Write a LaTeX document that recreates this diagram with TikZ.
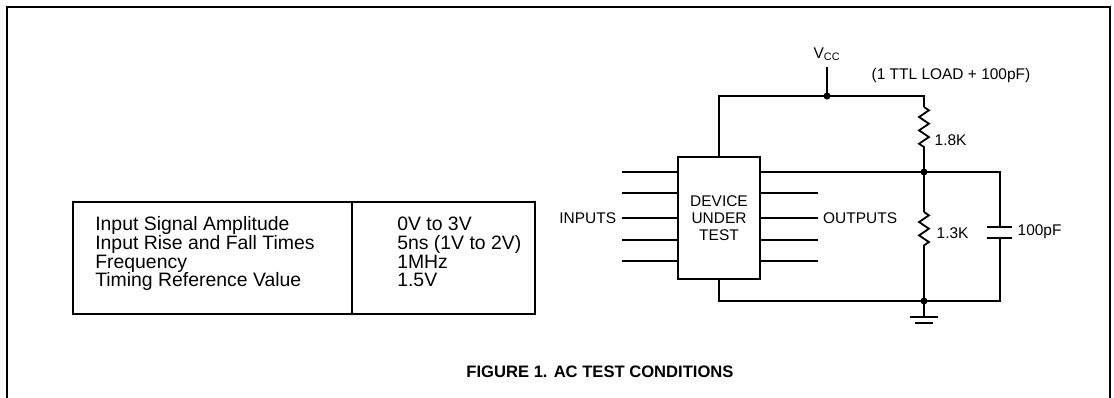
\documentclass[tikz,border=0pt]{standalone}
\usepackage{fontspec}
\setmainfont{Liberation Sans}
\usepackage{tikz}
\usetikzlibrary{positioning,calc,decorations.pathmorphing}
\tikzstyle{wire} = [line width=1.4pt]
\tikzstyle{res} = [line width=1.3pt, decorate, decoration={zigzag, segment length=9.5pt, amplitude=3.5pt}]

\begin{document}
\begin{tikzpicture}[x=0.025cm, y=-0.025cm, node distance=3pt,
    dot/.style = {circle, fill=black, inner sep=0pt, minimum size=5pt},
    lbl/.style = {font=\fontsize{11}{12}\selectfont, inner sep=1pt},
    tblrow/.style = {font=\fontsize{13.8}{14}\selectfont, inner sep=0pt, anchor=base west}]
    \useasboundingbox (0,0) rectangle (1114,398);
    % frame
    \draw[line width=1.5pt] (7,398) -- (7,7) -- (1110,7) -- (1110,398);

    % table
    \draw[wire] (73,202) rectangle (535,314);
    \draw[wire] (352,202) -- (352,314);
    \foreach \txt/\val [count=\i] in {Input Signal Amplitude/0V to 3V, Input Rise and Fall Times/{5ns (1V to 2V)}, Frequency/1MHz, Timing Reference Value/1.5V}
    {
        \node (p\i) [tblrow] at (95, 212+18.7*\i) {\txt};
        \node (v\i) [tblrow] at (397, 212+18.7*\i) {\val};
    }

    % device under test
    \node (dut) [draw, wire, minimum width=2.05cm, minimum height=3.05cm, align=center,
                 font=\fontsize{11}{12}\selectfont] at (719,218) {DEVICE\\UNDER\\TEST};
    \foreach \y [count=\i] in {172,193,218,240,261}
    {
        \coordinate (in\i) at (622,\y);
        \draw[wire] (in\i) -- (in\i -| dut.west);
    }
    \foreach \y [count=\i from 2] in {193,218,240,261}
    {
        \coordinate (o\i) at (818,\y);
        \draw[wire] (dut.east |- o\i) -- (o\i);
    }
    \node (inl) [lbl, left=3pt of in3] {INPUTS};
    \node (outl) [lbl, right=2.5pt of o3] {OUTPUTS};

    % supply
    \node (vnode) [dot] at (827,96) {};
    \coordinate (vcc) at (827,67);
    \node (vccl) [lbl, above=3pt of vcc] {V\textsubscript{CC}};
    \node (ttl) [lbl] at (951,76) {(1 TTL LOAD + 100pF)};
    \coordinate (r1a) at (924,107);
    \coordinate (r1b) at (924,149);
    \draw[wire] (vcc) -- (vnode.center);
    \draw[wire] (dut.north) |- (vnode.center) -| (r1a);
    \draw[res] (r1a) -- (r1b);
    \node (r1l) [lbl, anchor=west] at (933,140) {1.8K};

    % load
    \node (onode) [dot] at (924,172) {};
    \node (gnode) [dot] at (924,301) {};
    \coordinate (r2a) at (924,212);
    \coordinate (r2b) at (924,250);
    \coordinate (cp1) at (1000,227);
    \coordinate (cp2) at (1000,238);
    \coordinate (cb) at (1000,301);
    \draw[wire] (r1b) -- (onode.center);
    \draw[wire] (dut.east |- onode) -- (onode.center) -| (cp1);
    \draw[wire] (onode.center) -- (r2a);
    \draw[res] (r2a) -- (r2b);
    \draw[wire] (r2b) -- (gnode.center);
    \node (r2l) [lbl, anchor=west] at (935,233) {1.3K};
    \draw[line width=1.8pt] ($(cp1)+(-13,0)$) -- ($(cp1)+(12,0)$);
    \draw[line width=1.8pt] ($(cp2)+(-13,0)$) -- ($(cp2)+(12,0)$);
    \node (cl) [lbl, anchor=west] at (1016,232) {100pF};
    \draw[wire] (dut.south) |- (cb) -- (cp2);

    % ground
    \coordinate (g0) at (924,317);
    \draw[wire] (gnode.center) -- (g0);
    \draw[wire] ($(g0)+(-14,0)$) -- ($(g0)+(14,0)$);
    \draw[wire] ($(g0)+(-9,6)$) -- ($(g0)+(9,6)$);

    \node (fig) [font=\fontsize{11.8}{13}\bfseries\selectfont] at (600,372) {FIGURE 1. AC TEST CONDITIONS};
\end{tikzpicture}
\end{document}
